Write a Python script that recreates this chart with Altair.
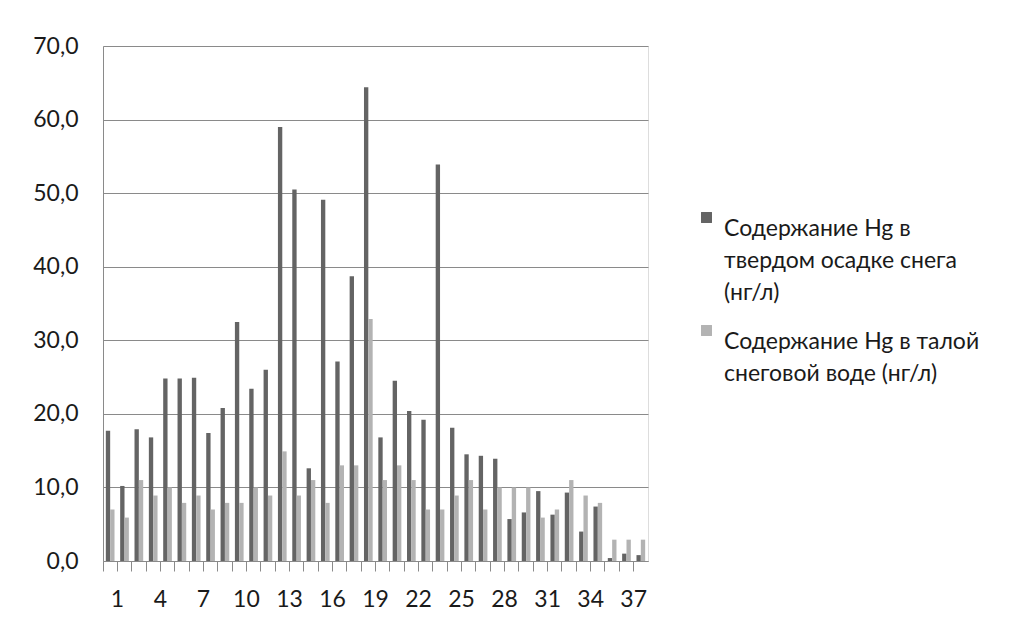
import altair as alt
import pandas as pd

categories = list(range(1, 39))
series_names = [
    "Содержание Hg в твердом осадке снега (нг/л)",
    "Содержание Hg в талой снеговой воде (нг/л)",
]
legend_lines = [
    ["Содержание Hg в", "твердом осадке снега", "(нг/л)"],
    ["Содержание Hg в талой", "снеговой воде (нг/л)"],
]
solid_values = [17.7, 10.2, 17.9, 16.8, 24.8, 24.8, 24.9, 17.4, 20.8, 32.5,
                23.4, 26.0, 59.0, 50.5, 12.6, 49.1, 27.1, 38.7, 64.4, 16.8,
                24.5, 20.4, 19.2, 53.9, 18.1, 14.5, 14.3, 13.9, 5.7, 6.6,
                9.5, 6.3, 9.3, 4.0, 7.4, 0.4, 1.0, 0.8]
melt_values = [7.0, 5.9, 11.0, 8.9, 10.0, 7.9, 8.9, 7.0, 7.9, 7.9,
               10.0, 8.9, 14.9, 8.9, 11.0, 7.9, 13.0, 13.0, 32.9, 11.0,
               13.0, 11.0, 7.0, 7.0, 8.9, 11.0, 7.0, 10.0, 10.0, 10.0,
               5.9, 7.0, 11.0, 8.9, 7.9, 2.9, 2.9, 2.9]
y_ticks = [0, 10, 20, 30, 40, 50, 60, 70]
colors = ["#646464", "#b3b3b3"]

rows = []
for i, c in enumerate(categories):
    rows.append({"n": c, "series": series_names[0], "order": 0, "value": solid_values[i]})
    rows.append({"n": c, "series": series_names[1], "order": 1, "value": melt_values[i]})
df = pd.DataFrame(rows)

def js_list(lines):
    return "[" + ",".join("'" + s + "'" for s in lines) + "]"

label_expr = (f"datum.label == '{series_names[0]}' ? {js_list(legend_lines[0])} : "
              f"{js_list(legend_lines[1])}")

FONT = "Lato"
FS = 23

chart = alt.Chart(df).mark_bar().encode(
    x=alt.X("n:O", sort=categories,
            scale=alt.Scale(paddingInner=0, paddingOuter=0),
            axis=alt.Axis(title=None, bandPosition=0, labelAngle=0,
                          labelExpr="(datum.value - 1) % 3 == 0 ? datum.label : ''",
                          labelOffset=7.2, tickSize=10, labelPadding=17,
                          domainColor="#8a8a8a", tickColor="#8a8a8a",
                          labelFont=FONT, labelFontSize=FS, labelColor="#1a1a1a",
                          grid=False, labelOverlap=False)),
    xOffset=alt.XOffset("order:O", scale=alt.Scale(paddingInner=0, paddingOuter=0.65)),
    y=alt.Y("value:Q",
            scale=alt.Scale(domain=[0, 70], nice=False),
            axis=alt.Axis(title=None, values=y_ticks, tickSize=0, labelPadding=25,
                          labelExpr="replace(format(datum.value, '.1f'), '.', ',')",
                          domainColor="#8a8a8a", gridColor="#8a8a8a", gridWidth=1.2,
                          labelFont=FONT, labelFontSize=FS, labelColor="#1a1a1a")),
    color=alt.Color("series:N", sort=series_names,
                    scale=alt.Scale(domain=series_names, range=colors),
                    legend=alt.Legend(title=None, orient="none", legendX=592, legendY=160,
                                      symbolType="square", symbolSize=120,
                                      symbolStrokeWidth=0, labelExpr=label_expr,
                                      labelFont=FONT, labelFontSize=FS,
                                      labelColor="#1a1a1a", labelLimit=500,
                                      labelBaseline="top", rowPadding=14,
                                      padding=0, labelOffset=6)),
).properties(
    width=545, height=515,
    autosize=alt.AutoSizeParams(type="none"),
    padding={"left": 95, "top": 38, "right": 371, "bottom": 56},
).configure_view(stroke=None).configure(style={"guide-label": {"lineHeight": 32}})

chart.save("out.html", embed_options={"renderer": "svg", "actions": False})
